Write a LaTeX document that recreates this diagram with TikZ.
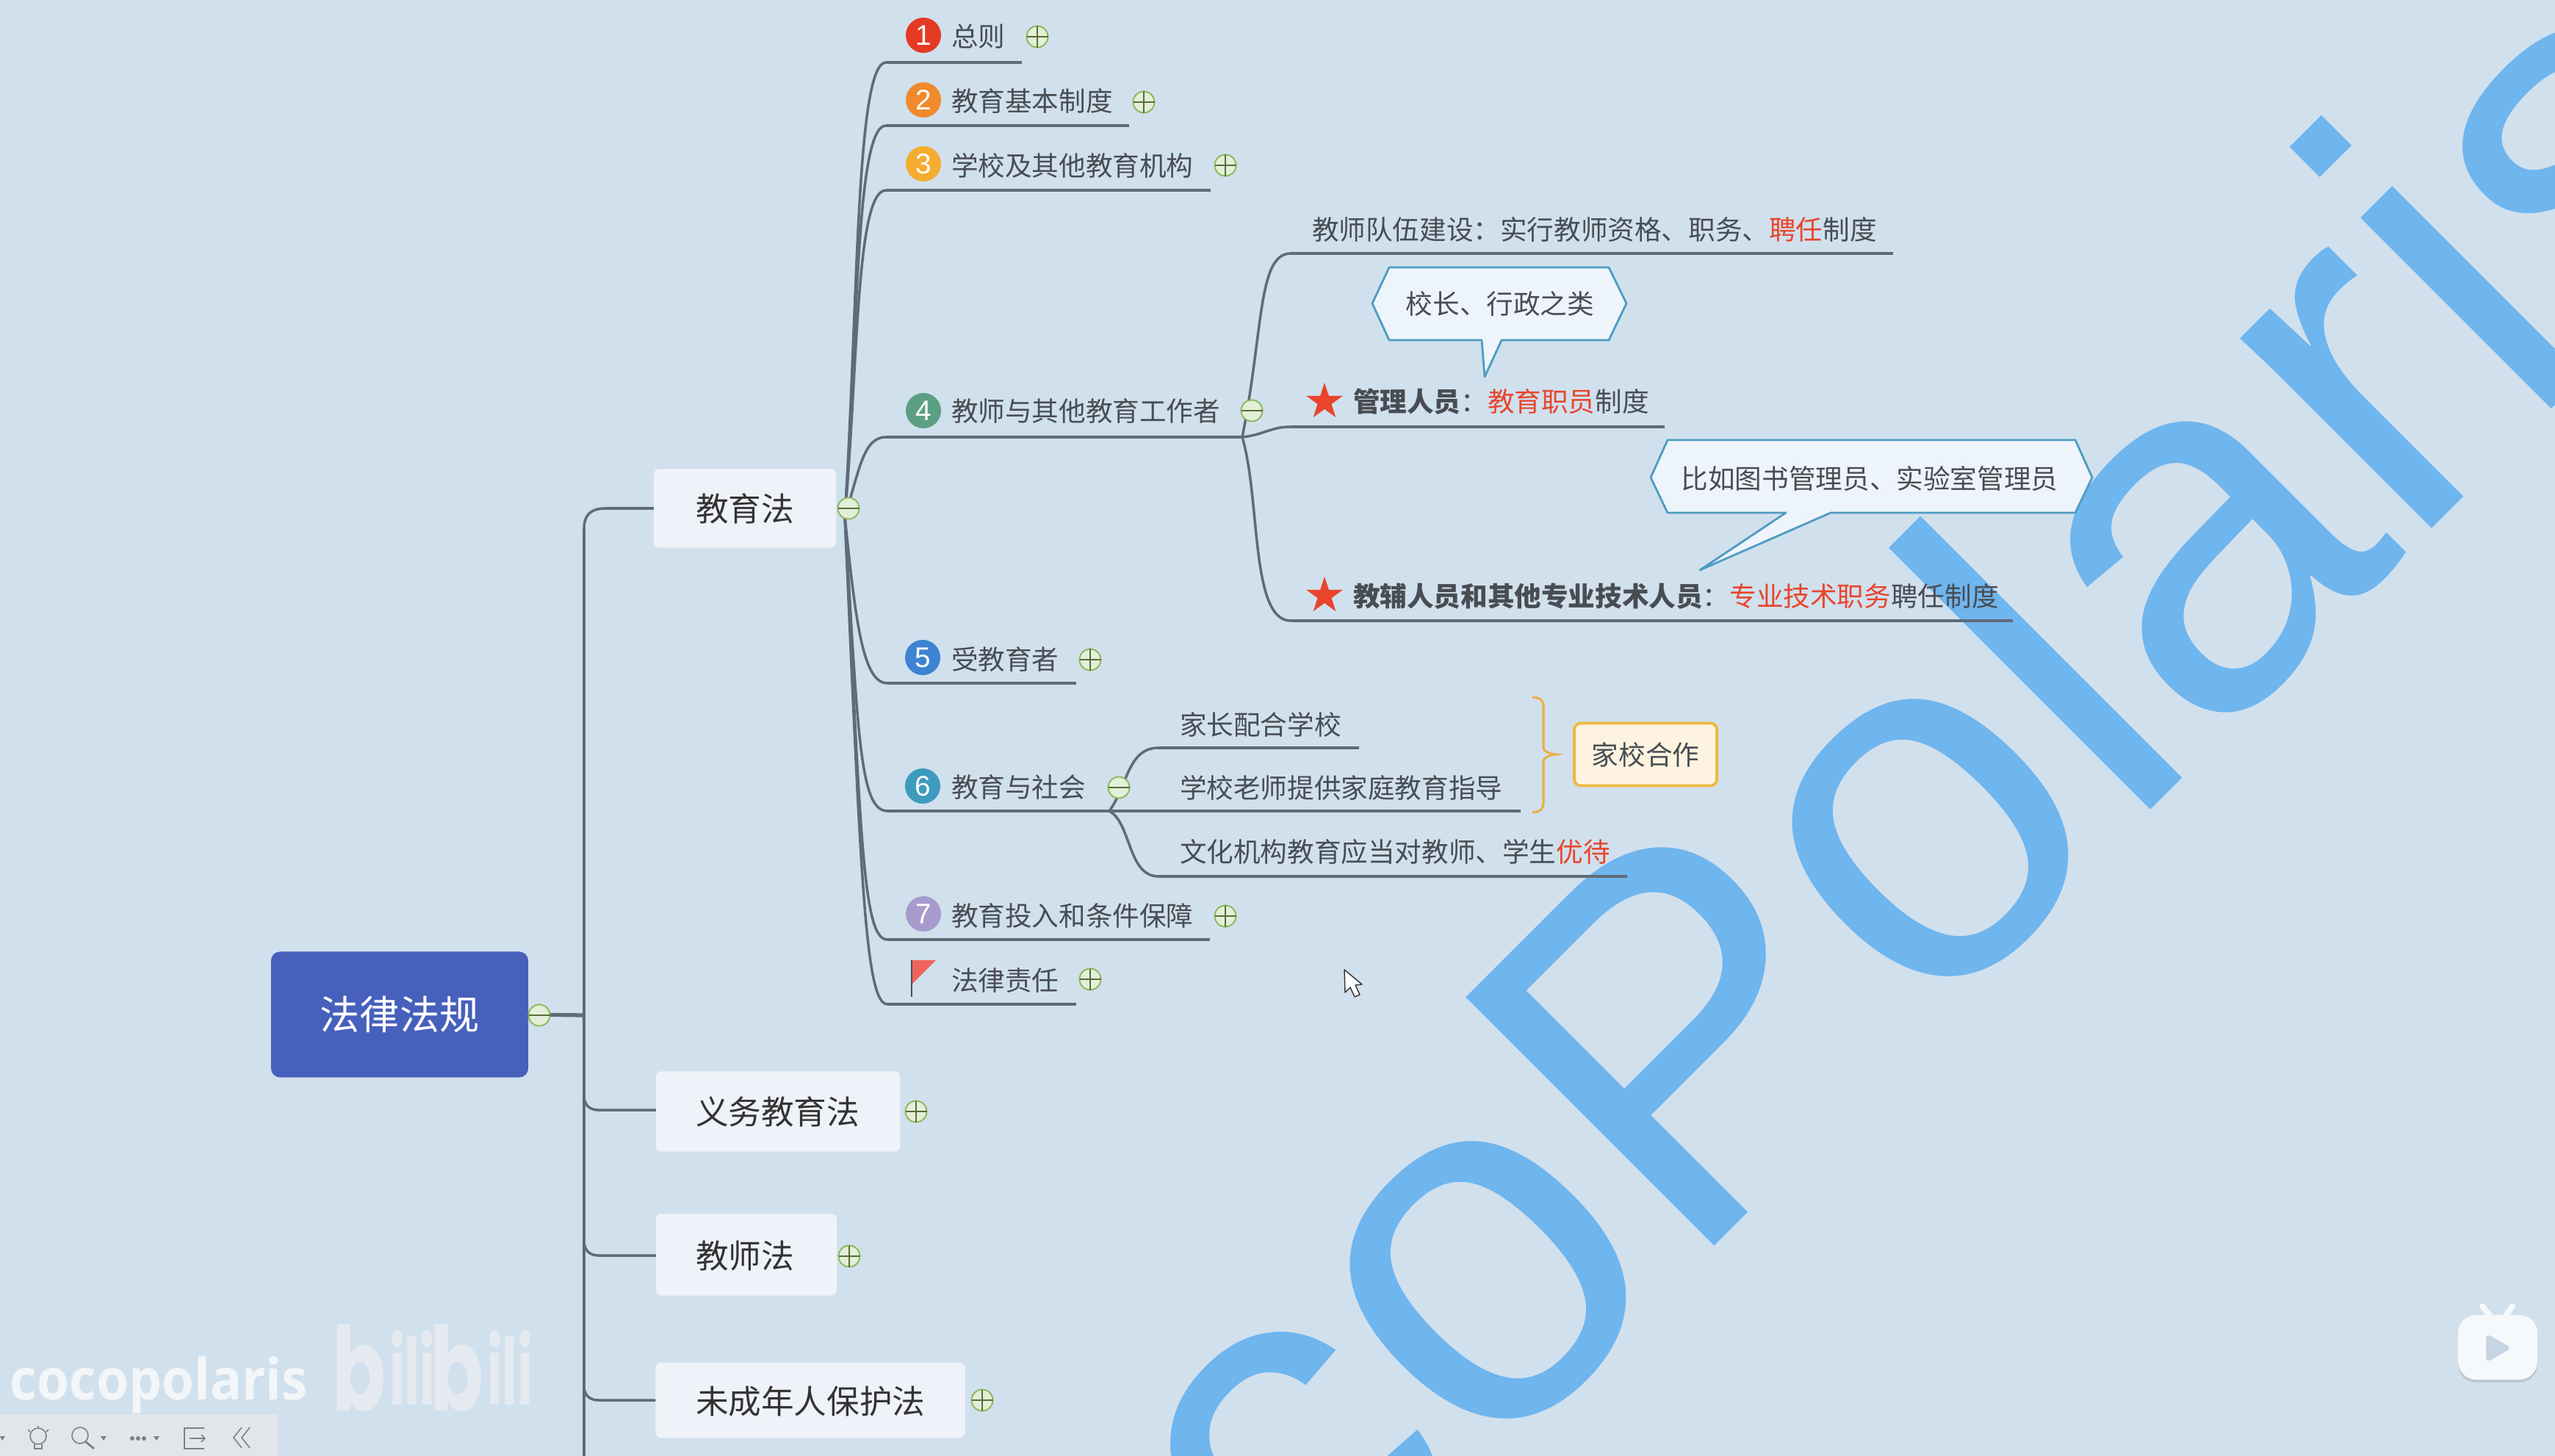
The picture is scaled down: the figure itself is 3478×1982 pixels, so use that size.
\documentclass[tikz,border=0pt]{standalone}
\usepackage{fontspec}
\setmainfont{Noto Sans CJK SC}
\newfontfamily\wmfont[Kerning=Off]{Liberation Sans}
\newfontfamily\logofont{Poppins}
\newfontfamily\latfont{Open Sans}
\newfontfamily\numfont{Liberation Sans}
\definecolor{bgc}{HTML}{D1E0ED}
\definecolor{wmc}{HTML}{6FB5EE}
\definecolor{linec}{HTML}{5F6B77}
\definecolor{txtc}{HTML}{484D53}
\definecolor{redc}{HTML}{E8452C}
\definecolor{lvl}{HTML}{EFF2F8}
\definecolor{togf}{HTML}{E3EFD9}
\definecolor{togd}{HTML}{8DB85A}
\definecolor{calf}{HTML}{EEF4FB}
\definecolor{cald}{HTML}{4E9CC4}
\definecolor{logoc}{HTML}{E4EAF0}
\newcommand{\red}[1]{\textcolor{redc}{#1}}
\tikzset{
  every node/.style={inner sep=0pt,outer sep=0pt},
  lab/.style={anchor=west,text=txtc,font=\fontsize{10.41pt}{12pt}\selectfont},
  ctr/.style={text=txtc,font=\fontsize{10.41pt}{12pt}\selectfont},
  lvltxt/.style={anchor=west,text=black!80,font=\fontsize{12.7pt}{14pt}\selectfont},
  lvlbox/.style={fill=lvl,rounded corners=2pt},
  conn/.style={draw=linec,line width=1pt},
  hline/.style={draw=linec,line width=1.1pt},
  num/.style={circle,minimum size=0.48cm,text=white,font=\numfont\fontsize{11pt}{12pt}\selectfont},
  tog/.style={circle,minimum size=0.29cm,draw=togd,fill=togf,line width=0.55pt},
  tsign/.style={draw=togd!60!black,line width=0.4pt},
  callout/.style={draw=cald,fill=calf,line width=0.8pt,line join=round},
  staricon/.style={fill=redc,draw=none},
  wm/.style={text=wmc,font=\wmfont\fontsize{197.7pt}{198pt}\selectfont,rotate=45,anchor=base west},
  iconl/.style={draw=black!50,line width=0.45pt},
  logobig/.style={anchor=base west,text=logoc,font=\logofont\bfseries\fontsize{45pt}{46pt}\selectfont,xscale=.68,transform shape},
  logosmall/.style={anchor=base west,text=logoc,font=\logofont\bfseries\fontsize{36pt}{37pt}\selectfont,xscale=.56,transform shape},
}
\newcommand{\plustog}[3]{\node[tog] (#1) at (#2,#3) {};\draw[tsign] (#1.west) -- (#1.east) (#1.north) -- (#1.south);}
\newcommand{\minustog}[3]{\node[tog] (#1) at (#2,#3) {};\draw[tsign] (#1.west) -- (#1.east);}
\begin{document}
\begin{tikzpicture}[x=0.01cm,y=-0.01cm]
\useasboundingbox (0,0) rectangle (3478,1982);
\clip (0,0) rectangle (3478,1982);
\fill[bgc] (0,0) rectangle (3478,1982);
% watermark
\node[wm] (wmk) at (1774,2256) {coPolaris};
% level-0 connectors
\coordinate (trunkT) at (795,720);
\coordinate (trunkB) at (795,1982);
\node[lvlbox,minimum width=2.48cm,minimum height=1.07cm] (jyf) at (1014,692) {};
\node[lvlbox,minimum width=3.32cm,minimum height=1.09cm] (ywf) at (1059,1513) {};
\node[lvlbox,minimum width=2.46cm,minimum height=1.11cm] (jsf) at (1016,1708) {};
\node[lvlbox,minimum width=4.21cm,minimum height=1.02cm] (wcn) at (1103,1906) {};
\node[fill={rgb,255:red,70;green,96;blue,188},rounded corners=3.5pt,minimum width=3.5cm,minimum height=1.71cm,text=white,font=\fontsize{15.4pt}{17pt}\selectfont] (root) at (544,1381) {法律法规};
\draw[conn,line width=1pt] (trunkT) -- (trunkB);
\draw[conn] (trunkT) .. controls (795,700) and (805,692) .. (825,692) -- (jyf.west);
\draw[conn] (795,1495) .. controls (797,1506) and (804,1511) .. (815,1511) -- (ywf.west |- 0,1511);
\draw[conn] (795,1692) .. controls (797,1704) and (804,1709) .. (815,1709) -- (jsf.west |- 0,1709);
\draw[conn] (795,1890) .. controls (797,1901) and (804,1906) .. (815,1906) -- (wcn.west);
\draw[conn,line width=1.5pt] (root.east) -- (795,1382);
\minustog{trootm}{734}{1382}
\node[lvltxt] (jyft) at (947,692) {教育法};
\node[lvltxt] (ywft) at (947,1513) {义务教育法};
\node[lvltxt] (jsft) at (947,1710) {教师法};
\node[lvltxt] (wcnt) at (947,1908) {未成年人保护法};
\plustog{tyw}{1247}{1513}
\plustog{tjs}{1156}{1710}
\plustog{twc}{1337}{1906}
% branches of 教育法
\coordinate (hub) at (1150,703);
\coordinate (l1a) at (1206,85);  \coordinate (l1b) at (1391,85);
\coordinate (l2a) at (1206,171); \coordinate (l2b) at (1537,171);
\coordinate (l3a) at (1206,259); \coordinate (l3b) at (1648,259);
\coordinate (l4a) at (1206,595); \coordinate (l4b) at (1691,595);
\coordinate (l5a) at (1208,930); \coordinate (l5b) at (1465,930);
\coordinate (l6a) at (1208,1104);\coordinate (l6b) at (1510,1104);
\coordinate (l7a) at (1208,1279);\coordinate (l7b) at (1647,1279);
\coordinate (l8a) at (1208,1367);\coordinate (l8b) at (1465,1367);
\draw[conn] (hub) .. controls (1168,420) and (1165,85) .. (l1a);
\draw[conn] (hub) .. controls (1168,450) and (1165,171) .. (l2a);
\draw[conn] (hub) .. controls (1168,500) and (1165,259) .. (l3a);
\draw[conn] (hub) .. controls (1170,640) and (1175,595) .. (l4a);
\draw[conn] (hub) .. controls (1165,850) and (1175,930) .. (l5a);
\draw[conn] (hub) .. controls (1168,1000) and (1170,1104) .. (l6a);
\draw[conn] (hub) .. controls (1172,1150) and (1175,1279) .. (l7a);
\draw[conn] (hub) .. controls (1172,1200) and (1178,1367) .. (l8a);
\foreach \n in {1,...,8}{\draw[hline] (l\n a) -- (l\n b);}
\minustog{tjy}{1155}{692}
\node[num,fill={rgb,255:red,228;green,58;blue,35}] (n1) at (1257,48) {1};
\node[num,fill={rgb,255:red,240;green,138;blue,44}] (n2) at (1257,136) {2};
\node[num,fill={rgb,255:red,245;green,172;blue,48}] (n3) at (1257,223) {3};
\node[num,fill={rgb,255:red,92;green,159;blue,132}] (n4) at (1257,559) {4};
\node[num,fill={rgb,255:red,62;green,130;blue,210}] (n5) at (1256,895) {5};
\node[num,fill={rgb,255:red,61;green,155;blue,190}] (n6) at (1256,1070) {6};
\node[num,fill={rgb,255:red,166;green,155;blue,204}] (n7) at (1257,1244) {7};
\node[lab] (t1) at (1295,50) {总则};
\node[lab] (t2) at (1295,138) {教育基本制度};
\node[lab] (t3) at (1295,225) {学校及其他教育机构};
\node[lab] (t4) at (1295,560) {教师与其他教育工作者};
\node[lab] (t5) at (1295,898) {受教育者};
\node[lab] (t6) at (1295,1072) {教育与社会};
\node[lab] (t7) at (1295,1247) {教育投入和条件保障};
\node[lab] (t8) at (1295,1335) {法律责任};
\plustog{p1}{1412}{50}
\plustog{p2}{1557}{139}
\plustog{p3}{1668}{225}
\plustog{p5}{1484}{898}
\plustog{p7}{1668}{1247}
\plustog{p8}{1484}{1333}
% flag
\fill[fill={rgb,255:red,240;green,99;blue,92}] (1241,1307) -- (1274,1307) -- (1241,1340) -- cycle;
\draw[draw=black!70,line width=0.5pt] (1241,1307) -- (1241,1357);
% section 4 children
\coordinate (h4) at (1691,595);
\coordinate (a1) at (1757,345); \coordinate (a1e) at (2577,345);
\coordinate (a2) at (1757,581); \coordinate (a2e) at (2266,581);
\coordinate (a3) at (1757,845); \coordinate (a3e) at (2740,845);
\draw[conn] (h4) .. controls (1720,450) and (1712,345) .. (a1);
\draw[conn] (h4) .. controls (1720,592) and (1730,581) .. (a2);
\draw[conn] (h4) .. controls (1716,680) and (1702,845) .. (a3);
\draw[hline] (a1) -- (a1e);
\draw[hline] (a2) -- (a2e);
\draw[hline] (a3) -- (a3e);
\minustog{m4}{1704}{559}
\node[lab] (c1) at (1786,313) {教师队伍建设：实行教师资格、职务、\red{聘任}制度};
\node[lab] (c2) at (1842,547) {\textbf{管理人员}：\red{教育职员}制度};
\node[lab] (c3) at (1842,812) {\textbf{教辅人员和其他专业技术人员}：\red{专业技术职务}聘任制度};
\foreach \sx/\sy in {1803/547,1803/811}{
  \fill[staricon] ([shift={(-90:26)}]\sx,\sy) -- ([shift={(-54:10)}]\sx,\sy) -- ([shift={(-18:26)}]\sx,\sy) -- ([shift={(18:10)}]\sx,\sy) -- ([shift={(54:26)}]\sx,\sy) -- ([shift={(90:10)}]\sx,\sy) -- ([shift={(126:26)}]\sx,\sy) -- ([shift={(162:10)}]\sx,\sy) -- ([shift={(198:26)}]\sx,\sy) -- ([shift={(234:10)}]\sx,\sy) -- cycle;
}
% callouts
\draw[callout] (1868,413) -- (1891,364) -- (2190,364) -- (2214,413) -- (2190,463) -- (2044,463) -- (2021,513) -- (2017,463) -- (1891,463) -- cycle;
\node[ctr] (q1) at (2042,414) {校长、行政之类};
\draw[callout] (2247,650) -- (2270,599) -- (2825,599) -- (2848,650) -- (2825,698) -- (2492,698) -- (2314,776) -- (2431,698) -- (2270,698) -- cycle;
\node[ctr] (q2) at (2545,651) {比如图书管理员、实验室管理员};
% section 6 children
\coordinate (h6) at (1510,1104);
\coordinate (b1) at (1577,1018); \coordinate (b1e) at (1850,1018);
\coordinate (b2e) at (2070,1104);
\coordinate (b3) at (1577,1193); \coordinate (b3e) at (2215,1193);
\draw[conn] (h6) .. controls (1535,1070) and (1535,1018) .. (b1);
\draw[conn] (h6) .. controls (1540,1120) and (1535,1193) .. (b3);
\draw[hline] (b1) -- (b1e);
\draw[hline] (h6) -- (b2e);
\draw[hline] (b3) -- (b3e);
\minustog{m6}{1523}{1072}
\node[lab] (d1) at (1606,986) {家长配合学校};
\node[lab] (d2) at (1606,1072) {学校老师提供家庭教育指导};
\node[lab] (d3) at (1606,1160) {文化机构教育应当对教师、学生\red{优待}};
\draw[draw={rgb,255:red,233;green,176;blue,74},line width=0.9pt] (2086,949) .. controls (2096,950) and (2101,952) .. (2101,962) -- (2101,1018) .. controls (2101,1022) and (2108,1026) .. (2118,1027) .. controls (2108,1028) and (2101,1032) .. (2101,1036) -- (2101,1092) .. controls (2101,1102) and (2096,1105) .. (2086,1106);
\node[draw={rgb,255:red,240;green,184;blue,64},fill={rgb,255:red,253;green,243;blue,224},line width=1.1pt,rounded corners=2.5pt,minimum width=1.94cm,minimum height=0.85cm,ctr] (jx) at (2240,1027) {家校合作};
% cursor
\draw[fill=white,draw=black!80,line width=0.4pt,line join=round] (1830,1320) -- (1831,1351) -- (1838,1344) -- (1844,1357) -- (1851,1354) -- (1845,1341) -- (1854,1340) -- cycle;
% bottom-left watermark
\node[anchor=base west,text=white,opacity=.72,font=\latfont\fontsize{22pt}{23pt}\selectfont\bfseries,xscale=.92,transform shape] (cp) at (14,1905) {cocopolaris};
\node[logobig] (b1t) at (452,1920) {b};
\node[logosmall] (i1t) at (530,1912) {ili};
\node[logobig] (b2t) at (585,1920) {b};
\node[logosmall] (i2t) at (663,1912) {ili};
% toolbar
\fill[fill={rgb,255:red,226;green,230;blue,234}] (0,1925) rectangle (378,1982);
\fill[black!50] (0,1955) -- (7,1955) -- (3,1961) -- cycle;
\draw[iconl] (52,1955) circle (11);
\draw[iconl] (47,1966) -- (47,1972) -- (57,1972) -- (57,1966) (52,1941) -- (52,1943) (38,1946) -- (41,1949) (66,1946) -- (63,1949);
\draw[iconl] (109,1954) circle (11);
\draw[iconl,line width=0.8pt] (116,1962) -- (128,1972);
\fill[black!50] (137,1955) -- (145,1955) -- (141,1961) -- cycle;
\fill[black!50] (180,1958) circle (3) (188,1958) circle (3) (196,1958) circle (3);
\fill[black!50] (209,1955) -- (217,1955) -- (213,1961) -- cycle;
\draw[iconl] (278,1944) -- (251,1944) -- (251,1972) -- (278,1972) (258,1958) -- (279,1958) (274,1953) -- (279,1958) -- (274,1963);
\draw[iconl] (329,1943) -- (318,1957) -- (329,1971) (340,1943) -- (329,1957) -- (340,1971);
% tv icon
\fill[black!40,opacity=.35,rounded corners=7pt] (3346,1794) rectangle (3454,1882);
\draw[fill=none,draw={rgb,255:red,245;green,249;blue,252},line width=2.2pt,line cap=round] (3379,1778) -- (3390,1792) (3420,1778) -- (3410,1792);
\fill[fill={rgb,255:red,245;green,249;blue,252},rounded corners=7pt] (3346,1790) rectangle (3454,1878);
\fill[fill={rgb,255:red,197;green,213;blue,227},rounded corners=2pt] (3384,1815) -- (3419,1835) -- (3384,1855) -- cycle;
\end{tikzpicture}
\end{document}
